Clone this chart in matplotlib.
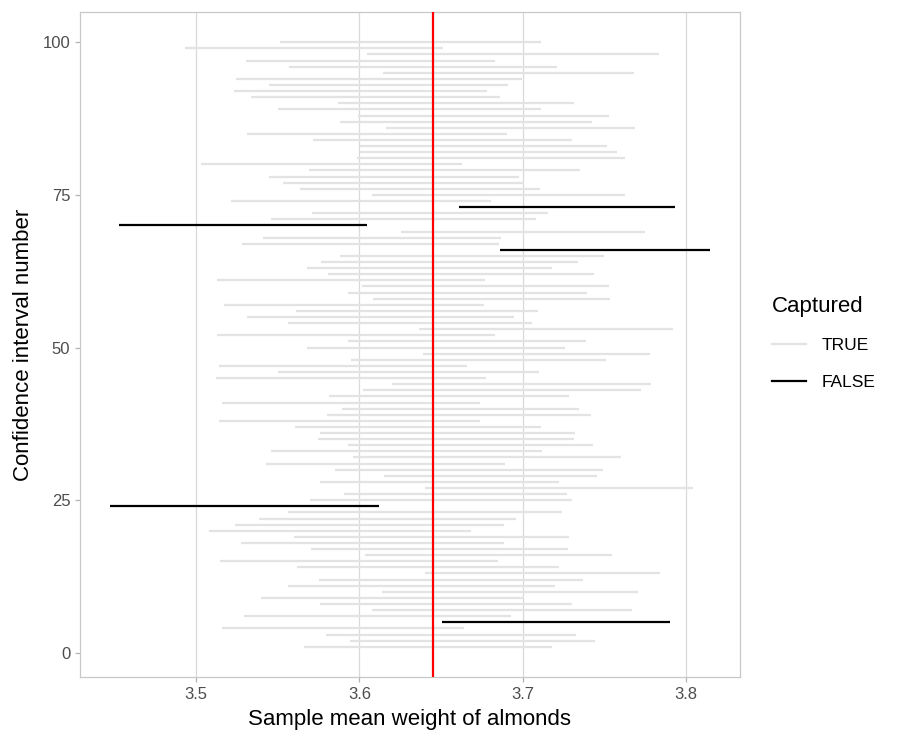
import numpy as np
import matplotlib
matplotlib.use("Agg")
import matplotlib.pyplot as plt
from matplotlib.lines import Line2D

plt.rcParams['font.family'] = ['Liberation Sans', 'DejaVu Sans']

# interval bounds for replicates 1..100
lower = [3.5663, 3.5941, 3.5798, 3.5162, 3.6506, 3.5294, 3.6076, 3.5759, 3.5395, 3.6137,
         3.5566, 3.5755, 3.6404, 3.5620, 3.5149, 3.6035, 3.5703, 3.5276, 3.5599, 3.5078,
         3.5239, 3.5387, 3.5564, 3.4474, 3.5697, 3.5908, 3.6400, 3.5759, 3.6153, 3.5853,
         3.5431, 3.5963, 3.5462, 3.5928, 3.5746, 3.5759, 3.5607, 3.5139, 3.5802, 3.5896,
         3.5162, 3.5816, 3.6020, 3.6200, 3.5121, 3.5501, 3.5139, 3.5949, 3.6386, 3.5681,
         3.5933, 3.5129, 3.6367, 3.5564, 3.5315, 3.5609, 3.5170, 3.6086, 3.5928, 3.6014,
         3.5127, 3.5806, 3.5681, 3.5763, 3.5881, 3.6859, 3.5284, 3.5411, 3.6257, 3.4532,
         3.5456, 3.5708, 3.6612, 3.5217, 3.6080, 3.5636, 3.5534, 3.5448, 3.5693, 3.5033,
         3.5984, 3.6004, 3.6004, 3.5718, 3.5313, 3.6160, 3.5881, 3.5994, 3.5503, 3.5867,
         3.5337, 3.5235, 3.5448, 3.5243, 3.6143, 3.5571, 3.5309, 3.6045, 3.4930, 3.5513]
upper = [3.7178, 3.7441, 3.7324, 3.6639, 3.7900, 3.6927, 3.7669, 3.7302, 3.7004, 3.7706,
         3.7194, 3.7365, 3.7839, 3.7222, 3.6849, 3.7547, 3.7276, 3.6886, 3.7284, 3.6684,
         3.6882, 3.6955, 3.7237, 3.6122, 3.7302, 3.7273, 3.8043, 3.7220, 3.7451, 3.7490,
         3.6888, 3.7602, 3.7118, 3.7431, 3.7312, 3.7318, 3.7112, 3.6739, 3.7418, 3.7345,
         3.6737, 3.7284, 3.7720, 3.7784, 3.6776, 3.7098, 3.6659, 3.7510, 3.7778, 3.7257,
         3.7388, 3.6831, 3.7918, 3.7057, 3.6945, 3.7090, 3.6765, 3.7533, 3.7392, 3.7527,
         3.6771, 3.7435, 3.7178, 3.7339, 3.7498, 3.8145, 3.6855, 3.6869, 3.7747, 3.6045,
         3.7082, 3.7153, 3.7931, 3.6806, 3.7624, 3.7104, 3.7006, 3.6976, 3.7349, 3.6627,
         3.7622, 3.7578, 3.7516, 3.7302, 3.6904, 3.7684, 3.7420, 3.7529, 3.7114, 3.7314,
         3.6863, 3.6782, 3.6910, 3.6996, 3.7680, 3.7210, 3.6831, 3.7833, 3.6510, 3.7108]
mu = 3.645

lower = np.array(lower)
upper = np.array(upper)
ids = np.arange(1, len(lower) + 1)
captured = (lower <= mu) & (upper >= mu)

fig = plt.figure(figsize=(9, 7.5), dpi=100)
ax = fig.add_axes([80 / 900, 1 - 677 / 750, 660 / 900, 665 / 750])

ax.hlines(ids[captured], lower[captured], upper[captured], color='#e3e3e3', linewidth=1.6, zorder=2)
ax.hlines(ids[~captured], lower[~captured], upper[~captured], color='black', linewidth=1.6, zorder=3)
ax.axvline(mu, color='red', linewidth=1.6, zorder=4)

span = upper.max() - lower.min()
ax.set_xlim(lower.min() - 0.05 * span, upper.max() + 0.05 * span)
ax.set_ylim(1 - 0.05 * 99, 100 + 0.05 * 99)
ax.set_xticks([3.5, 3.6, 3.7, 3.8])
ax.set_yticks([0, 25, 50, 75, 100])
ax.grid(axis='x', color='#d9d9d9', linewidth=0.9, zorder=1)
ax.set_axisbelow(True)
for s in ax.spines.values():
    s.set_color('#c8c8c8')
    s.set_linewidth(0.9)
ax.tick_params(colors='#b3b3b3', labelcolor='#4d4d4d', labelsize=12, length=3.5, width=0.9)

ax.set_xlabel('Sample mean weight of almonds', fontsize=16, labelpad=5)
ax.set_ylabel('Confidence interval number', fontsize=16, labelpad=6)

handles = [Line2D([], [], color='#e3e3e3', linewidth=1.6),
           Line2D([], [], color='black', linewidth=1.6)]
leg = fig.legend(handles, ['TRUE', 'FALSE'], title='Captured', loc='upper left',
                 bbox_to_anchor=(756 / 900, 1 - 280 / 750), frameon=False,
                 fontsize=12.5, title_fontsize=16, handlelength=2.0, handletextpad=0.9,
                 labelspacing=1.25)
leg._legend_box.align = 'left'

fig.savefig('out.png', dpi=100)
